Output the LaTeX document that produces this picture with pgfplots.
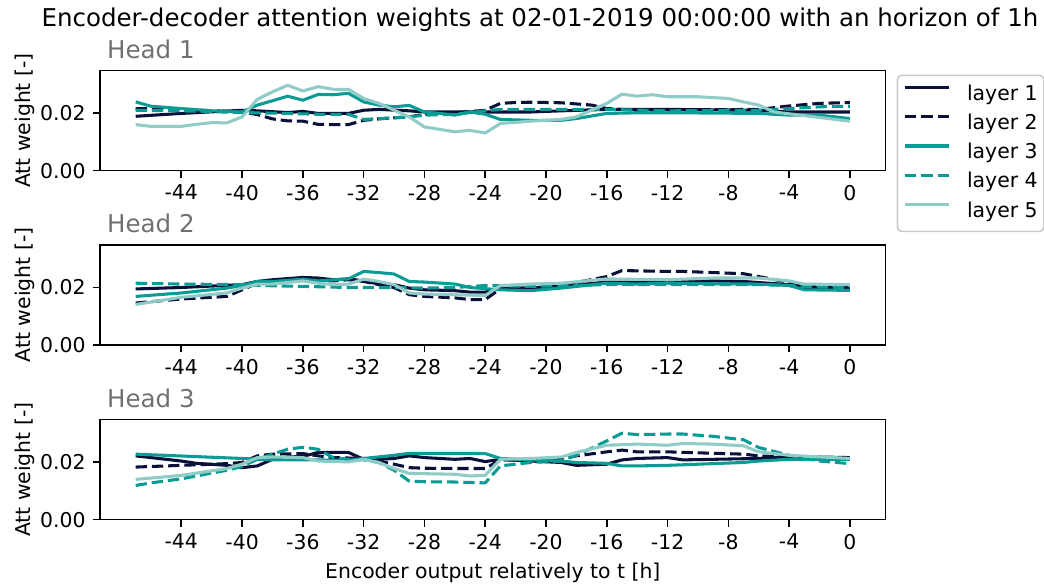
\documentclass[border=0pt]{standalone}
\usepackage{fontspec}
\setmainfont{DejaVu Sans}
\usepackage{pgfplots}
\pgfplotsset{compat=1.18}
\definecolor{navy}{HTML}{0B1038}
\definecolor{tealA}{HTML}{0A9B94}
\definecolor{tealB}{HTML}{8FCBC7}
\definecolor{headgray}{HTML}{707070}

\pgfplotsset{
  attplot/.style={
    width=385pt, height=49pt, scale only axis,
    xmin=-49.35, xmax=2.35, ymin=0, ymax=0.0348,
    xtick={-44,-40,...,0},
    xticklabels={-44,-40,-36,-32,-28,-24,-20,-16,-12,-8,-4,0},
    ytick={0,0.02}, yticklabels={0.00,0.02},
    scaled y ticks=false,
    tick align=outside, major tick length=3.5pt,
    xtick pos=bottom, ytick pos=left,
    axis line style={line width=0.8pt},
    every tick/.style={black, line width=0.8pt},
    tick label style={font=\fontsize{10}{12}\selectfont},
    label style={font=\fontsize{10}{12}\selectfont},
    ylabel={Att weight [-]},
    every axis y label/.style={at={(axis description cs:-0.089,0.5)}, rotate=90, anchor=base},
    every axis x label/.style={at={(axis description cs:0.5,-0.584)}, anchor=base},
    every axis plot/.append style={line width=1.5pt, line join=round},
  },
  l1/.style={navy},
  l2/.style={navy, dash pattern=on 5.55pt off 2.4pt},
  l3/.style={tealA},
  l4/.style={tealA, dash pattern=on 5.55pt off 2.4pt},
  l5/.style={tealB},
}

\begin{document}
\begin{tikzpicture}
\path[use as bounding box] (0,0) rectangle (511.6pt,-286.2pt);

\node[anchor=base, font=\fontsize{12}{14}\selectfont] at (264.6pt,-13.2pt)
  {Encoder-decoder attention weights at 02-01-2019 00:00:00 with an horizon of 1h};

% Head 1
\begin{axis}[attplot, name=ax1, at={(49pt,-34.6pt)}, anchor=north west,
  legend style={at={(1.014,0.96)}, anchor=north west, draw=black!20,
    rounded corners=2pt, line width=0.8pt, fill=white,
    font=\fontsize{10}{12}\selectfont,
    nodes={inner sep=0pt, text height=7.6pt, text depth=2.4pt},
    column sep=8pt, row sep=4.3pt, inner xsep=3pt, inner ysep=4.6pt},
  legend cell align=left,
  legend image code/.code={\draw[#1] (0pt,3.6pt) -- (21.6pt,3.6pt);},
]
\addplot[l1] coordinates {(-47,0.0189)(-44,0.0199)(-40,0.0210)(-39,0.0208)(-37,0.0202)(-36,0.0206)(-35,0.0199)(-33,0.0199)(-32,0.0210)(-31,0.0213)(-29,0.0208)(-28,0.0204)(-26,0.0204)(-24,0.0204)(-23,0.0204)(-21,0.0204)(-19,0.0208)(-16,0.0213)(-12,0.0213)(-6,0.0210)(-4,0.0204)(0,0.0204)};
\addplot[l2] coordinates {(-47,0.0216)(-44,0.0213)(-40,0.0204)(-39,0.0195)(-38,0.0180)(-37,0.0173)(-36,0.0172)(-35,0.0161)(-34,0.0160)(-33,0.0160)(-32,0.0175)(-31,0.0180)(-29,0.0187)(-28,0.0196)(-26,0.0201)(-24,0.0210)(-23,0.0234)(-22,0.0237)(-21,0.0238)(-19,0.0236)(-17,0.0228)(-16,0.0216)(-14,0.0210)(-6,0.0213)(-4,0.0225)(-2,0.0234)(0,0.0237)};
\addplot[l3] coordinates {(-47,0.0239)(-46,0.0224)(-44,0.0216)(-42,0.0208)(-40,0.0204)(-39,0.0228)(-38,0.0243)(-37,0.0259)(-36,0.0245)(-35,0.0265)(-34,0.0264)(-33,0.0269)(-32,0.0239)(-31,0.0228)(-30,0.0222)(-29,0.0227)(-28,0.0204)(-27,0.0199)(-26,0.0193)(-25,0.0204)(-24,0.0196)(-23,0.0178)(-21,0.0175)(-19,0.0175)(-18,0.0181)(-16,0.0199)(-14,0.0201)(-11,0.0201)(-6,0.0199)(-4,0.0193)(-2,0.0193)(0,0.0181)};
\addplot[l4] coordinates {(-47,0.0210)(-44,0.0208)(-40,0.0202)(-37,0.0199)(-35,0.0196)(-33,0.0196)(-32,0.0178)(-29,0.0187)(-28,0.0193)(-26,0.0196)(-24,0.0208)(-23,0.0213)(-16,0.0213)(-12,0.0208)(-6,0.0210)(-2,0.0222)(0,0.0224)};
\addplot[l5] coordinates {(-47,0.0160)(-46,0.0154)(-44,0.0154)(-43,0.0161)(-42,0.0167)(-41,0.0166)(-40,0.0187)(-39,0.0248)(-38,0.0274)(-37,0.0297)(-36,0.0277)(-35,0.0292)(-34,0.0283)(-33,0.0283)(-32,0.0251)(-31,0.0234)(-29,0.0187)(-28,0.0152)(-26,0.0135)(-25,0.0140)(-24,0.0131)(-23,0.0164)(-21,0.0172)(-19,0.0178)(-18,0.0187)(-16,0.0234)(-15,0.0266)(-14,0.0259)(-13,0.0264)(-12,0.0257)(-10,0.0257)(-8,0.0251)(-7,0.0239)(-6,0.0228)(-5,0.0204)(0,0.0172)};
\legend{layer 1,layer 2,layer 3,layer 4,layer 5}
\end{axis}

% Head 2
\begin{axis}[attplot, name=ax2, at={(49pt,-120.05pt)}, anchor=north west]
\addplot[l1] coordinates {(-47,0.0195)(-44,0.0200)(-40,0.0210)(-39,0.0221)(-38,0.0227)(-36,0.0235)(-35,0.0233)(-34,0.0227)(-33,0.0230)(-32,0.0223)(-31,0.0212)(-30,0.0210)(-29,0.0198)(-28,0.0192)(-26,0.0189)(-25,0.0184)(-24,0.0184)(-23,0.0196)(-21,0.0198)(-19,0.0204)(-16,0.0219)(-14,0.0218)(-12,0.0221)(-11,0.0225)(-7,0.0221)(-4,0.0210)(-3,0.0200)(0,0.0198)};
\addplot[l2] coordinates {(-47,0.0146)(-44,0.0160)(-41,0.0169)(-40,0.0192)(-39,0.0215)(-38,0.0221)(-36,0.0227)(-34,0.0223)(-33,0.0227)(-32,0.0221)(-31,0.0210)(-30,0.0200)(-29,0.0175)(-28,0.0169)(-26,0.0164)(-25,0.0158)(-24,0.0158)(-23,0.0196)(-21,0.0198)(-19,0.0207)(-16,0.0238)(-15,0.0259)(-14,0.0258)(-12,0.0256)(-11,0.0256)(-9,0.0252)(-7,0.0248)(-6,0.0238)(-4,0.0218)(-3,0.0204)(0,0.0204)};
\addplot[l3] coordinates {(-47,0.0169)(-44,0.0181)(-41,0.0198)(-40,0.0207)(-39,0.0221)(-38,0.0221)(-36,0.0229)(-35,0.0223)(-33,0.0230)(-32,0.0256)(-31,0.0252)(-30,0.0247)(-29,0.0221)(-28,0.0219)(-26,0.0212)(-25,0.0200)(-24,0.0196)(-23,0.0192)(-21,0.0189)(-19,0.0198)(-16,0.0215)(-14,0.0212)(-12,0.0215)(-9,0.0213)(-6,0.0212)(-4,0.0207)(-3,0.0192)(0,0.0190)};
\addplot[l4] coordinates {(-47,0.0215)(-44,0.0212)(-40,0.0210)(-38,0.0206)(-36,0.0204)(-33,0.0200)(-30,0.0200)(-28,0.0198)(-26,0.0200)(-24,0.0207)(-21,0.0204)(-16,0.0210)(-6,0.0210)(-4,0.0207)(-3,0.0204)(0,0.0198)};
\addplot[l5] coordinates {(-47,0.0141)(-44,0.0166)(-41,0.0181)(-40,0.0198)(-39,0.0212)(-38,0.0212)(-36,0.0223)(-35,0.0215)(-34,0.0210)(-33,0.0212)(-32,0.0229)(-31,0.0221)(-30,0.0210)(-29,0.0181)(-28,0.0177)(-26,0.0175)(-24,0.0172)(-23,0.0207)(-21,0.0212)(-19,0.0215)(-16,0.0230)(-12,0.0227)(-9,0.0233)(-6,0.0233)(-4,0.0223)(-3,0.0212)(0,0.0210)};
\end{axis}

% Head 3
\begin{axis}[attplot, name=ax3, at={(49pt,-205.65pt)}, anchor=north west,
  xlabel={Encoder output relatively to t [h]}]
\addplot[l1] coordinates {(-47,0.0222)(-44,0.0204)(-43,0.0196)(-41,0.0189)(-40,0.0181)(-39,0.0187)(-38,0.0210)(-37,0.0218)(-36,0.0220)(-35,0.0234)(-34,0.0234)(-33,0.0234)(-32,0.0210)(-31,0.0210)(-30,0.0213)(-29,0.0222)(-28,0.0216)(-26,0.0210)(-25,0.0213)(-24,0.0202)(-23,0.0210)(-21,0.0204)(-19,0.0199)(-18,0.0189)(-16,0.0193)(-15,0.0208)(-14,0.0213)(-12,0.0216)(-11,0.0208)(-9,0.0210)(-6,0.0213)(-4,0.0220)(0,0.0216)};
\addplot[l2] coordinates {(-47,0.0183)(-44,0.0189)(-41,0.0195)(-40,0.0199)(-39,0.0222)(-38,0.0228)(-36,0.0230)(-35,0.0222)(-34,0.0216)(-32,0.0213)(-31,0.0204)(-30,0.0193)(-29,0.0181)(-28,0.0179)(-26,0.0178)(-24,0.0178)(-23,0.0208)(-21,0.0207)(-19,0.0213)(-18,0.0222)(-16,0.0236)(-15,0.0242)(-14,0.0236)(-12,0.0236)(-9,0.0231)(-7,0.0228)(-6,0.0222)(-4,0.0218)(0,0.0213)};
\addplot[l3] coordinates {(-47,0.0228)(-40,0.0213)(-38,0.0208)(-36,0.0208)(-33,0.0207)(-32,0.0213)(-30,0.0224)(-29,0.0231)(-26,0.0231)(-24,0.0230)(-23,0.0213)(-21,0.0208)(-19,0.0204)(-18,0.0199)(-16,0.0196)(-15,0.0187)(-14,0.0187)(-12,0.0189)(-9,0.0195)(-7,0.0199)(-6,0.0204)(-4,0.0210)(0,0.0210)};
\addplot[l4] coordinates {(-47,0.0119)(-46,0.0128)(-44,0.0142)(-41,0.0172)(-40,0.0185)(-39,0.0210)(-38,0.0228)(-37,0.0245)(-36,0.0252)(-35,0.0245)(-34,0.0216)(-33,0.0210)(-32,0.0208)(-31,0.0199)(-30,0.0172)(-29,0.0134)(-28,0.0132)(-26,0.0131)(-24,0.0128)(-23,0.0187)(-21,0.0199)(-19,0.0204)(-18,0.0224)(-16,0.0274)(-15,0.0301)(-14,0.0296)(-12,0.0298)(-11,0.0298)(-9,0.0290)(-7,0.0278)(-6,0.0251)(-4,0.0224)(-2,0.0204)(0,0.0195)};
\addplot[l5] coordinates {(-47,0.0140)(-44,0.0154)(-41,0.0178)(-40,0.0193)(-39,0.0216)(-38,0.0218)(-36,0.0216)(-35,0.0204)(-33,0.0201)(-32,0.0210)(-31,0.0199)(-30,0.0178)(-29,0.0161)(-28,0.0160)(-26,0.0158)(-25,0.0152)(-24,0.0154)(-23,0.0210)(-21,0.0213)(-19,0.0218)(-18,0.0234)(-16,0.0259)(-14,0.0263)(-12,0.0259)(-11,0.0265)(-9,0.0263)(-7,0.0257)(-6,0.0236)(-4,0.0224)(0,0.0213)};
\end{axis}

\node[anchor=base west, text=headgray, font=\fontsize{12}{14}\selectfont] at ([yshift=6pt]ax1.north west) {Head 1};
\node[anchor=base west, text=headgray, font=\fontsize{12}{14}\selectfont] at ([yshift=6pt]ax2.north west) {Head 2};
\node[anchor=base west, text=headgray, font=\fontsize{12}{14}\selectfont] at ([yshift=6pt]ax3.north west) {Head 3};
\end{tikzpicture}
\end{document}
